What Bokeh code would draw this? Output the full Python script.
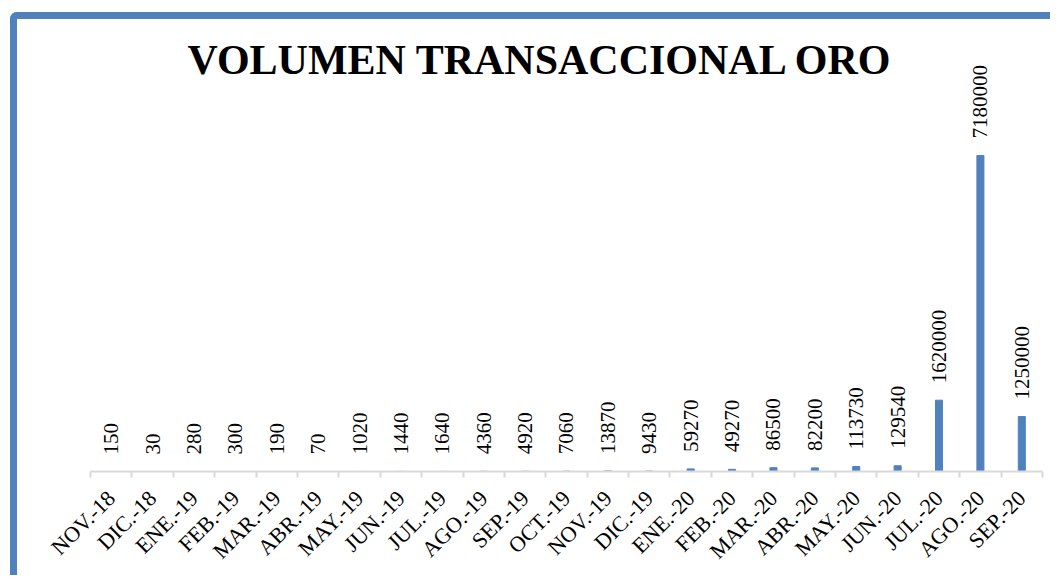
import math
from bokeh.plotting import figure
from bokeh.models import Range1d, FixedTicker, ColumnDataSource, LabelSet, Label
from bokeh.embed import file_html
from bokeh.resources import INLINE

# ---- data ----
months = ["NOV.-18", "DIC.-18", "ENE.-19", "FEB.-19", "MAR.-19", "ABR.-19",
          "MAY.-19", "JUN.-19", "JUL.-19", "AGO.-19", "SEP.-19", "OCT.-19",
          "NOV.-19", "DIC.-19", "ENE.-20", "FEB.-20", "MAR.-20", "ABR.-20",
          "MAY.-20", "JUN.-20", "JUL.-20", "AGO.-20", "SEP.-20"]
values = [150, 30, 280, 300, 190, 70, 1020, 1440, 1640, 4360, 4920, 7060,
          13870, 9430, 59270, 49270, 86500, 82200, 113730, 129540,
          1620000, 7180000, 1250000]
title_text = "VOLUMEN TRANSACCIONAL ORO"

BLUE = "#4F81BD"
n = len(months)
xs = [i + 0.5 for i in range(n)]
src = ColumnDataSource(dict(x=xs, v=values, lab=[str(v) for v in values]))

p = figure(width=1040, height=563,
           x_range=Range1d(0, n), y_range=Range1d(0, 1.002e7),
           output_backend="svg", toolbar_location=None,
           y_axis_location=None,
           min_border_left=73, min_border_right=15,
           min_border_bottom=111, min_border_top=11)
p.margin = (12, 0, 0, 10)
p.styles = {"border-top": f"7px solid {BLUE}", "border-left": f"7px solid {BLUE}",
            "border-top-left-radius": "7px"}

p.vbar(x="x", top="v", width=0.17, source=src, color=BLUE)

labels = LabelSet(x="x", y="v", text="lab", source=src, angle=math.pi / 2,
                  text_align="left", text_baseline="middle", y_offset=17,
                  text_font="Lato", text_font_size="21px", text_color="black")
p.add_layout(labels)

title = Label(x=450, y=412, x_units="screen", y_units="screen", text=title_text,
              text_align="center", text_baseline="alphabetic",
              text_font="Liberation Serif", text_font_size="42px",
              text_font_style="bold", text_color="black")
p.add_layout(title)

ax = p.xaxis[0]
ax.ticker = FixedTicker(ticks=xs, minor_ticks=list(range(n + 1)))
ax.major_label_overrides = {x: m for x, m in zip(xs, months)}
ax.major_label_orientation = math.pi / 4
ax.major_label_text_font = "Liberation Serif"
ax.major_label_text_font_size = "22px"
ax.major_label_text_color = "black"
ax.major_label_standoff = 17
ax.major_tick_out = 0
ax.major_tick_in = 0
ax.minor_tick_out = 6
ax.minor_tick_in = 0
ax.minor_tick_line_color = "#D9D9D9"
ax.minor_tick_line_width = 2
ax.axis_line_color = "#D9D9D9"
ax.axis_line_width = 2

p.grid.visible = False
p.outline_line_color = None
p.background_fill_color = "white"
p.border_fill_color = "white"

open("out.html", "w").write(file_html(p, INLINE))
